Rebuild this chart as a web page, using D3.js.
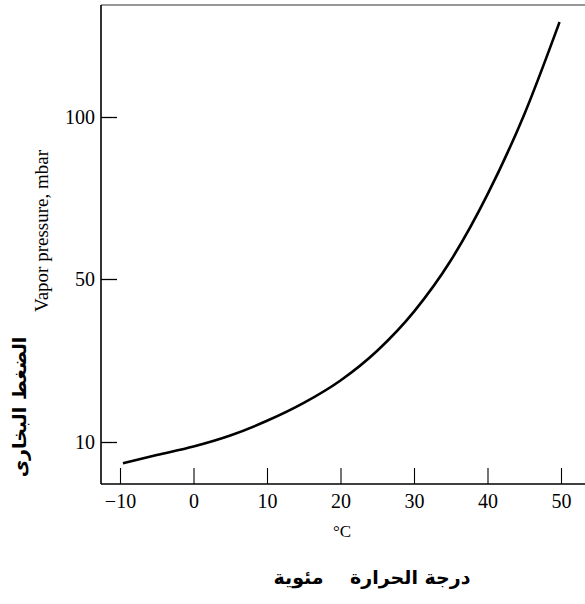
<!DOCTYPE html>
<html>
<head>
<meta charset="utf-8">
<script src="https://cdn.jsdelivr.net/npm/d3@7"></script>
<style>
  body { margin: 0; background: #fff; }
  svg { display: block; }
</style>
</head>
<body>
<div id="chart"></div>
<script>
// Chart size
const width = 585;
const height = 604;

// Values (temperature in °C, vapor pressure in mbar)
const temps = [-9.6, -5, 0, 5, 10, 15, 20, 25, 30, 35, 40, 45, 49.8];
const pressure = [4.8, 6.8, 8.9, 11.6, 15.2, 19.6, 25.1, 32.4, 42.0, 55.7, 76.1, 100.8, 129.3];

// Tick values and labels
const xTicks = [-10, 0, 10, 20, 30, 40, 50];
const yTicks = [10, 50, 100];

// Axis titles
const xTitle = "°C";
const xTitleAr = "درجة الحرارة    مئوية";
const yTitle = "Vapor pressure, mbar";
const yTitleAr = "الضغط البخارى";

const data = temps.map((t, i) => ({t: t, p: pressure[i]}));

const svg = d3.select("#chart")
  .append("svg")
  .attr("width", width)
  .attr("height", height);

// Plot box edges
const box = {left: 101, top: 5, bottom: 484, right: 585};

// x scale
const xScale = d3.scaleLinear()
  .domain([-10, 50])
  .range([120, 561]);

// y scale - the printed axis is not evenly spaced, so use a piecewise scale
const yScale = d3.scaleLinear()
  .domain([10, 50, 100])
  .range([442, 279, 117]);

// top border
svg.append("line")
  .attr("x1", box.left).attr("x2", box.right)
  .attr("y1", box.top).attr("y2", box.top)
  .attr("stroke", "#333")
  .attr("stroke-width", 1.2);

// bottom axis, ticks pointing up into the plot
const xAxis = svg.append("g")
  .attr("transform", `translate(0,${box.bottom})`)
  .call(d3.axisBottom(xScale)
    .tickValues(xTicks)
    .tickSizeInner(-16)
    .tickSizeOuter(0)
    .tickPadding(7)
    .tickFormat(d => d < 0 ? "\u2212" + Math.abs(d) : d));
xAxis.select(".domain").remove();
xAxis.append("line")
  .attr("x1", box.left).attr("x2", box.right)
  .attr("stroke", "#000").attr("stroke-width", 1.3);
xAxis.selectAll(".tick line").attr("stroke", "#000").attr("stroke-width", 1.1);
xAxis.selectAll(".tick text")
  .attr("font-family", "Liberation Serif, Times New Roman, serif")
  .attr("font-size", "20px")
  .attr("fill", "#000")
  .attr("dy", "0.85em");

// left axis, ticks pointing right into the plot
const yAxis = svg.append("g")
  .attr("transform", `translate(${box.left},0)`)
  .call(d3.axisLeft(yScale)
    .tickValues(yTicks)
    .tickSizeInner(-16)
    .tickSizeOuter(0)
    .tickPadding(6));
yAxis.select(".domain").remove();
yAxis.append("line")
  .attr("y1", box.top).attr("y2", box.bottom)
  .attr("stroke", "#000").attr("stroke-width", 1.6);
yAxis.selectAll(".tick line").attr("stroke", "#000").attr("stroke-width", 1.3);
yAxis.selectAll(".tick text")
  .attr("font-family", "Liberation Serif, Times New Roman, serif")
  .attr("font-size", "20px")
  .attr("fill", "#000");

// the vapor pressure curve
const line = d3.line()
  .x(d => xScale(d.t))
  .y(d => yScale(d.p))
  .curve(d3.curveMonotoneX);

svg.append("path")
  .datum(data)
  .attr("d", line)
  .attr("fill", "none")
  .attr("stroke", "#000")
  .attr("stroke-width", 2.6);

// x titles
svg.append("text")
  .attr("x", 342)
  .attr("y", 537)
  .attr("text-anchor", "middle")
  .attr("font-family", "Liberation Serif, Times New Roman, serif")
  .attr("font-size", "17px")
  .text(xTitle);

svg.append("text")
  .attr("x", 372)
  .attr("y", 584)
  .attr("text-anchor", "middle")
  .attr("direction", "rtl")
  .style("white-space", "pre")
  .attr("font-family", "DejaVu Sans, sans-serif")
  .attr("font-weight", "bold")
  .attr("font-size", "19px")
  .text(xTitleAr);

// y titles
svg.append("text")
  .attr("transform", "translate(48,231) rotate(-90)")
  .attr("text-anchor", "middle")
  .attr("font-family", "Liberation Serif, Times New Roman, serif")
  .attr("font-size", "19px")
  .text(yTitle);

svg.append("text")
  .attr("transform", "translate(26,407) rotate(-90)")
  .attr("text-anchor", "middle")
  .attr("direction", "rtl")
  .attr("font-family", "DejaVu Sans, sans-serif")
  .attr("font-weight", "bold")
  .attr("font-size", "19px")
  .text(yTitleAr);
</script>
</body>
</html>
